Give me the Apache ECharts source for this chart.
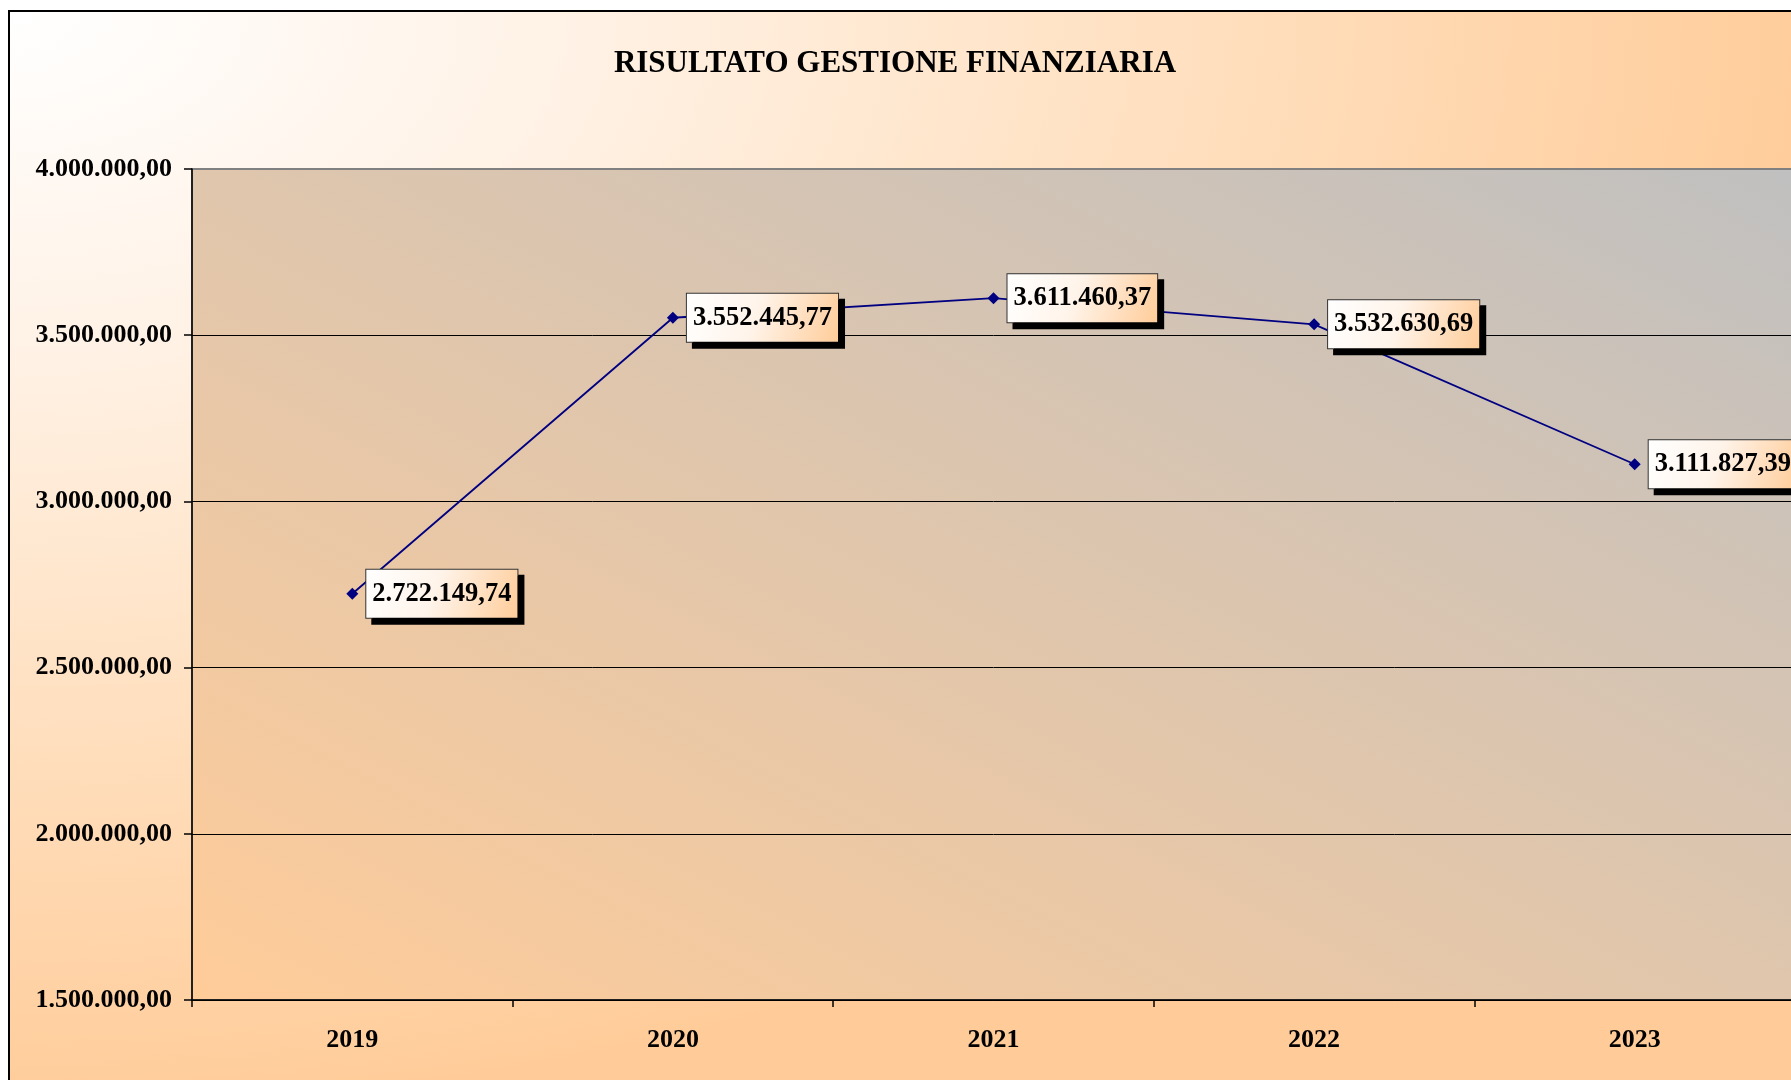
<!DOCTYPE html>
<html>
<head>
<meta charset="utf-8">
<title>RISULTATO GESTIONE FINANZIARIA</title>
<script src="https://cdn.jsdelivr.net/npm/echarts@6/dist/echarts.min.js"></script>
<style>
  html, body { margin: 0; padding: 0; background: #fff; overflow: hidden; width: 1791px; height: 1080px; }
  .frame {
    position: absolute; left: 8px; top: 10px;
    width: 1830px; height: 1100px;
    border: 2px solid #000;
    background: radial-gradient(farthest-side ellipse at 0 0, #ffffff 0%, #fff2e6 30%, #ffe2c4 60%, #ffcc99 100%);
  }
  #chart { width: 1830px; height: 1100px; }
</style>
</head>
<body>
<div class="frame"><div id="chart"></div></div>
<script>
// dati
const anni = ["2019", "2020", "2021", "2022", "2023"];
const risultato = [2722149.74, 3552445.77, 3611460.37, 3532630.69, 3111827.39];
const yMin = 1500000;
const yMax = 4000000;
const yStep = 500000;

// formato italiano: 1.234.567,89
function formatIt(v) {
  const parts = Number(v).toFixed(2).split(".");
  const intPart = parts[0].replace(/\B(?=(\d{3})+(?!\d))/g, ".");
  return intPart + "," + parts[1];
}

const font = "'Liberation Serif', 'Times New Roman', serif";

const option = {
  backgroundColor: "transparent",
  animation: false,
  title: {
    text: "RISULTATO GESTIONE FINANZIARIA",
    left: 885,
    top: 36,
    padding: 0,
    textAlign: "center",
    textStyle: {
      fontFamily: font,
      fontWeight: "bold",
      fontSize: 31,
      color: "#000"
    }
  },
  grid: {
    show: true,
    left: 182,
    top: 157,
    width: 1603,
    height: 831,
    borderColor: "#808080",
    borderWidth: 2,
    backgroundColor: new echarts.graphic.LinearGradient(0, 1, 0.4237, -0.576, [
      { offset: 0, color: "#ffcc99" },
      { offset: 1, color: "#c0c0c0" }
    ])
  },
  xAxis: {
    type: "category",
    data: anni,
    boundaryGap: true,
    axisLine: { lineStyle: { color: "#000", width: 1.5 } },
    axisTick: { show: true, interval: 0, length: 7, lineStyle: { color: "#000", width: 1.5 } },
    axisLabel: {
      margin: 27,
      fontFamily: font,
      fontWeight: "bold",
      fontSize: 26,
      color: "#000"
    },
    splitLine: { show: false }
  },
  yAxis: {
    type: "value",
    min: yMin,
    max: yMax,
    interval: yStep,
    axisLine: { show: true, lineStyle: { color: "#000", width: 1.5 } },
    axisTick: { show: true, length: 8, lineStyle: { color: "#000", width: 1.5 } },
    axisLabel: {
      margin: 20,
      fontFamily: font,
      fontWeight: "bold",
      fontSize: 26,
      color: "#000",
      formatter: v => formatIt(v)
    },
    splitLine: { show: true, showMaxLine: false, lineStyle: { color: "#000", width: 1 } }
  },
  series: [
    {
      name: "Risultato gestione finanziaria",
      type: "line",
      data: risultato,
      symbol: "diamond",
      symbolSize: 12,
      itemStyle: { color: "#000080" },
      lineStyle: { color: "#000080", width: 1.8 },
      label: {
        show: true,
        position: "right",
        distance: 8,
        formatter: p => formatIt(p.value),
        fontFamily: font,
        fontWeight: "bold",
        fontSize: 26.5,
        lineHeight: 28,
        color: "#000",
        padding: [10, 6, 10, 6],
        borderColor: "#333",
        borderWidth: 1,
        backgroundColor: new echarts.graphic.LinearGradient(0, 0, 1, 1, [
          { offset: 0, color: "#ffffff" },
          { offset: 0.45, color: "#fff4ea" },
          { offset: 1, color: "#ffcc99" }
        ]),
        shadowColor: "#000",
        shadowBlur: 0,
        shadowOffsetX: 6,
        shadowOffsetY: 6
      },
      z: 3
    }
  ]
};

const chart = echarts.init(document.getElementById("chart"), null, { renderer: "canvas" });
chart.setOption(option);
</script>
</body>
</html>
